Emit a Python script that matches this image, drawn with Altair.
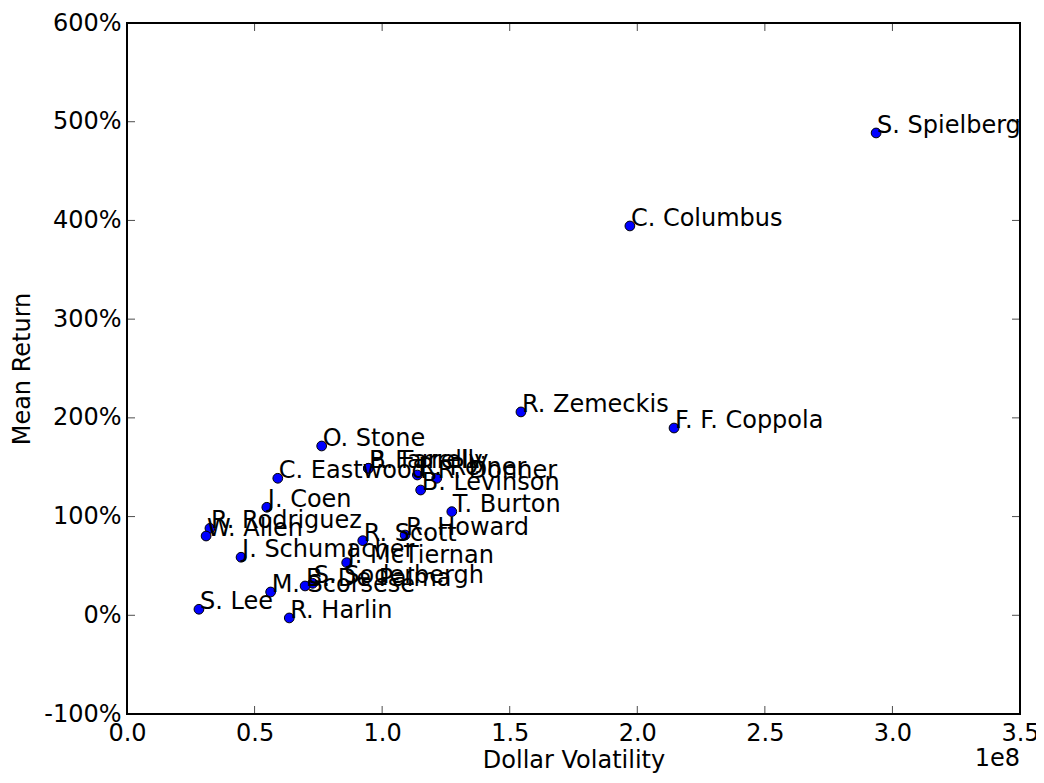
import altair as alt
import pandas as pd

names = ["S. Spielberg", "C. Columbus", "R. Zemeckis", "F. F. Coppola", "O. Stone",
         "P. Farrelly", "B. Farrelly", "C. Eastwood", "R. Reiner", "R. Donner",
         "B. Levinson", "J. Coen", "T. Burton", "R. Rodriguez", "W. Allen",
         "R. Scott", "R. Howard", "J. Schumacher", "J. McTiernan", "S. Soderbergh",
         "B. De Palma", "M. Scorsese", "S. Lee", "R. Harlin"]
volatility = [2.936e8, 1.971e8, 1.544e8, 2.144e8, 0.763e8,
              0.946e8, 0.946e8, 0.591e8, 1.138e8, 1.214e8,
              1.151e8, 0.548e8, 1.273e8, 0.325e8, 0.310e8,
              0.924e8, 1.090e8, 0.447e8, 0.861e8, 0.728e8,
              0.698e8, 0.563e8, 0.282e8, 0.636e8]
mean_return = [488.6, 394.4, 206.0, 189.7, 171.5,
               148.9, 148.9, 138.8, 142.1, 138.8,
               126.9, 109.4, 105.0, 88.1, 80.3,
               75.6, 81.3, 58.8, 53.3, 32.4,
               29.7, 23.6, 6.1, -2.7]

x_ticks = [0, 0.5e8, 1.0e8, 1.5e8, 2.0e8, 2.5e8, 3.0e8, 3.5e8]
y_ticks = [-100, 0, 100, 200, 300, 400, 500, 600]

df = pd.DataFrame({"name": names, "vol": volatility, "ret": mean_return})
xt = pd.DataFrame({"v": x_ticks})
yt = pd.DataFrame({"v": y_ticks})

W, H = 893, 691
FONT = "DejaVu Sans"
FS = 24

xscale = alt.Scale(domain=[0, 3.5e8], nice=False, zero=False)
yscale = alt.Scale(domain=[-100, 600], nice=False, zero=False)

xaxis = alt.Axis(values=x_ticks, labelExpr="format(datum.value/1e8, '.1f')",
                 title="Dollar Volatility", grid=False, domain=False, ticks=False,
                 labelFont=FONT, labelFontSize=FS, labelColor="black", labelPadding=7,
                 titleFont=FONT, titleFontSize=FS, titleFontWeight="normal",
                 titleColor="black", titlePadding=3, labelFlush=False, labelOverlap=False)
yaxis = alt.Axis(values=y_ticks, labelExpr="datum.value + '%'",
                 title="Mean Return", grid=False, domain=False, ticks=False,
                 labelFont=FONT, labelFontSize=FS, labelColor="black", labelPadding=6,
                 titleFont=FONT, titleFontSize=FS, titleFontWeight="normal",
                 titleColor="black", titlePadding=9, labelFlush=False, labelOverlap=False)

points = alt.Chart(df).mark_circle(size=95, color="#0000ff", opacity=1,
                                   stroke="black", strokeWidth=1).encode(
    x=alt.X("vol:Q", scale=xscale, axis=xaxis),
    y=alt.Y("ret:Q", scale=yscale, axis=yaxis),
)

labels = alt.Chart(df).mark_text(align="left", baseline="alphabetic", font=FONT,
                                 fontSize=FS, color="black", dx=1).encode(
    x=alt.X("vol:Q", scale=xscale),
    y=alt.Y("ret:Q", scale=yscale),
    text="name:N",
)

tick_len = 16
xb = alt.Chart(xt).mark_tick(orient="vertical", size=tick_len, color="black",
                             thickness=1, clip=True).encode(
    x=alt.X("v:Q", scale=xscale), y=alt.datum(-100))
xtop = alt.Chart(xt).mark_tick(orient="vertical", size=tick_len, color="black",
                               thickness=1, clip=True).encode(
    x=alt.X("v:Q", scale=xscale), y=alt.datum(600))
yl = alt.Chart(yt).mark_tick(orient="horizontal", size=tick_len, color="black",
                             thickness=1, clip=True).encode(
    y=alt.Y("v:Q", scale=yscale), x=alt.datum(0))
yr = alt.Chart(yt).mark_tick(orient="horizontal", size=tick_len, color="black",
                             thickness=1, clip=True).encode(
    y=alt.Y("v:Q", scale=yscale), x=alt.datum(3.5e8))

offset = alt.Chart(pd.DataFrame({"t": ["1e8"]})).mark_text(
    align="right", baseline="alphabetic", font=FONT, fontSize=FS, color="black").encode(
    x=alt.value(W), y=alt.value(H + 52), text="t:N")

chart = alt.layer(xb, xtop, yl, yr, points, labels, offset).properties(
    width=W, height=H,
    autosize=alt.AutoSizeParams(type="none"),
    padding={"left": 119, "top": 15, "right": 16, "bottom": 60},
    background="white",
).configure_view(stroke="black", strokeWidth=2)

chart.save("out.html", embed_options={"renderer": "svg", "actions": False})
